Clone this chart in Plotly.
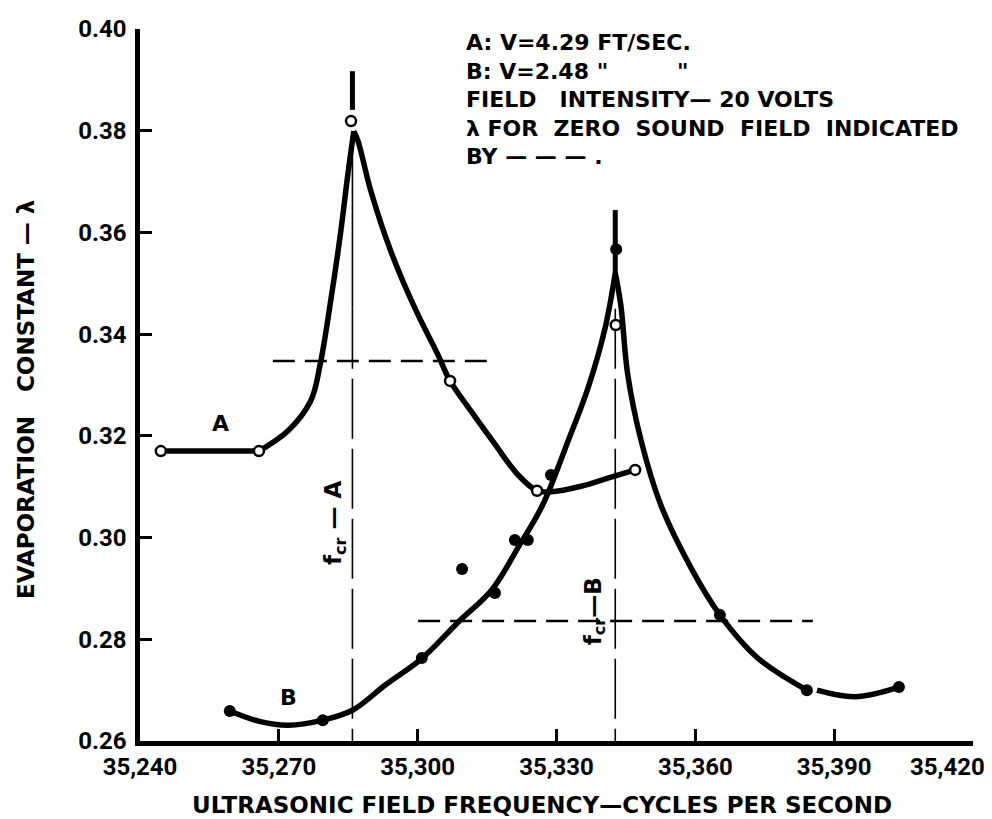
import plotly.graph_objects as go

# axis ticks
x_ticks = [35240, 35270, 35300, 35330, 35360, 35390, 35420]
x_tick_labels = ["35,240", "35,270", "35,300", "35,330", "35,360", "35,390", "35,420"]
y_ticks = [0.26, 0.28, 0.30, 0.32, 0.34, 0.36, 0.38, 0.40]
y_tick_labels = ["0.26", "0.28", "0.30", "0.32", "0.34", "0.36", "0.38", "0.40"]

# curve A (V=4.29 ft/sec) - measured points, open circles
a_pts_x = [35244.5, 35265.7, 35285.6, 35307.0, 35325.8, 35347.0]
a_pts_y = [0.317, 0.317, 0.3819, 0.3308, 0.3092, 0.3133]
# drawn curve A (three pieces, cusp at the peak)
a_flat_x = [35244.5, 35265.7]
a_flat_y = [0.317, 0.317]
a_rise_x = [35265.7, 35272.0, 35276.9, 35278.9, 35281.3, 35283.4, 35284.9, 35286.2]
a_rise_y = [0.317, 0.321, 0.3269, 0.3339, 0.3471, 0.3603, 0.3713, 0.3799]
a_fall_x = [35286.2, 35287.1, 35289.9, 35294.2, 35299.4, 35304.4, 35307.0, 35311.5,
            35316.5, 35321.7, 35325.8, 35328.8, 35335.3, 35341.1, 35347.0]
a_fall_y = [0.3799, 0.378, 0.3681, 0.3563, 0.3451, 0.3359, 0.3308, 0.3249,
            0.3186, 0.3123, 0.3092, 0.309, 0.3101, 0.3117, 0.3133]

# curve B (V=2.48 ft/sec) - measured points, filled dots
b_pts_x = [35259.4, 35279.5, 35300.9, 35309.6, 35316.7, 35321.0, 35323.8, 35328.8,
           35342.9, 35365.3, 35384.1, 35404.0]
b_pts_y = [0.2659, 0.2641, 0.2763, 0.2938, 0.2891, 0.2995, 0.2995, 0.3123,
           0.3567, 0.2848, 0.2700, 0.2706]
b_odd_x = [35342.8]
b_odd_y = [0.3418]
b_left_x = [35259.4, 35266.0, 35272.0, 35279.5, 35286.0, 35293.0, 35301.0, 35309.0,
            35316.0, 35322.0, 35327.0, 35332.5, 35336.8, 35340.5, 35342.7]
b_left_y = [0.2659, 0.2638, 0.2631, 0.2641, 0.2661, 0.2710, 0.2763, 0.2836,
            0.2897, 0.2985, 0.3064, 0.3190, 0.3294, 0.3412, 0.3520]
b_right_x = [35342.7, 35343.9, 35345.4, 35348.3, 35352.5, 35359.1, 35365.3, 35373.5, 35384.1]
b_right_y = [0.3520, 0.3457, 0.3320, 0.3190, 0.3065, 0.2940, 0.2848, 0.2763, 0.2700]
b_tail_x = [35386.3, 35394.5, 35404.0]
b_tail_y = [0.2700, 0.2687, 0.2706]

# critical frequencies and lambda for zero sound field
fcr_a = 35285.9
fcr_b = 35342.7
zero_a_x = [35268.7, 35315.6]
zero_a_y = 0.3347
zero_b_x = [35300.1, 35385.4]
zero_b_y = 0.2836

NB = "\u00a0"
notes = ("A: V=4.29 FT/SEC.<br>"
         "B: V=2.48 \"" + NB * 9 + "\"<br>"
         "FIELD" + NB * 3 + "INTENSITY\u2014 20 VOLTS<br>"
         "\u03bb FOR" + NB * 2 + "ZERO" + NB * 2 + "SOUND" + NB * 2 + "FIELD" + NB * 2 + "INDICATED<br>"
         "BY \u2014 \u2014 \u2014 .")

TFONT = "Roboto, DejaVu Sans, sans-serif"
LFONT = "DejaVu Sans, Roboto, sans-serif"
K = "black"

fig = go.Figure()

def line(x, y, width=5.5, dash="solid", shape="spline"):
    fig.add_trace(go.Scatter(x=x, y=y, mode="lines", line_shape=shape,
                             line=dict(color=K, width=width, dash=dash),
                             hoverinfo="skip", showlegend=False))

# reference lines
line(zero_a_x, [zero_a_y, zero_a_y], 2.5, "22px,10px", "linear")
line(zero_b_x, [zero_b_y, zero_b_y], 2.5, "22px,10px", "linear")
line([fcr_a, fcr_a], [0.3799, 0.345], 1.6, "solid", "linear")
line([fcr_a, fcr_a], [0.345, 0.26], 1.6, "60px,10px", "linear")
line([fcr_b, fcr_b], [0.345, 0.26], 1.6, "60px,10px", "linear")
line([fcr_a, fcr_a], [0.3841, 0.3917], 5, "solid", "linear")
line([fcr_b, fcr_b], [0.352, 0.3644], 5, "solid", "linear")

# curve A
line(a_flat_x, a_flat_y, shape="linear")
line(a_rise_x, a_rise_y)
line(a_fall_x, a_fall_y)
# curve B
line(b_left_x, b_left_y)
line(b_right_x, b_right_y)
line(b_tail_x, b_tail_y)

fig.add_trace(go.Scatter(x=a_pts_x + b_odd_x, y=a_pts_y + b_odd_y, mode="markers",
                         marker=dict(symbol="circle", size=10, color="white",
                                     line=dict(color=K, width=2.5)),
                         hoverinfo="skip", showlegend=False))
fig.add_trace(go.Scatter(x=b_pts_x, y=b_pts_y, mode="markers",
                         marker=dict(symbol="circle", size=12, color=K),
                         hoverinfo="skip", showlegend=False))

lab = dict(family=LFONT, size=22, color=K, weight="bold")
fig.add_annotation(x=35257.5, y=0.3225, text="A", showarrow=False, font=lab)
fig.add_annotation(x=35272.0, y=0.2685, text="B", showarrow=False, font=lab)
fig.add_annotation(x=35282.2, y=0.3029, text="f<sub>cr</sub> \u2014 A", showarrow=False,
                   textangle=-90, font=dict(family=LFONT, size=23, color=K, weight="bold"))
fig.add_annotation(x=35338.3, y=0.2855, text="f<sub>cr</sub>\u2014B", showarrow=False,
                   textangle=-90, font=dict(family=LFONT, size=23, color=K, weight="bold"))
fig.add_annotation(xref="paper", yref="paper", x=(456 - 132) / 833, y=1 - (20 - 21) / 712,
                   xanchor="left", yanchor="top", align="left", text=notes, showarrow=False,
                   font=dict(family=LFONT, size=22, color=K, weight="bold"))

# axis titles
fig.add_annotation(xref="paper", yref="paper", x=(534 - 132) / 833, y=(733 - 797) / 712,
                   xanchor="center", yanchor="middle", showarrow=False,
                   text="ULTRASONIC FIELD FREQUENCY\u2014CYCLES PER SECOND",
                   font=dict(family=LFONT, size=23, color=K, weight="bold"))
fig.add_annotation(xref="paper", yref="paper", x=(18 - 132) / 833, y=(733 - 392) / 712,
                   xanchor="center", yanchor="middle", showarrow=False, textangle=-90,
                   text="EVAPORATION" + NB * 3 + "CONSTANT" + NB + "\u2014" + NB + "\u03bb",
                   font=dict(family=LFONT, size=23, color=K, weight="bold"))

tick_font = dict(family=TFONT, size=24, color=K, weight="bold")
# last x tick label is lettered a little left of its tick (it would run off the page)
fig.add_annotation(x=x_ticks[-1], xref="x", yref="paper", y=(733 - 759) / 712,
                   xanchor="right", yanchor="middle", xshift=14, showarrow=False,
                   text=x_tick_labels[-1], font=tick_font)
fig.update_xaxes(range=[35240, 35420], tickvals=x_ticks,
                 ticktext=x_tick_labels[:-1] + [""],
                 ticks="inside", ticklen=12, tickwidth=2.5, tickcolor=K,
                 showline=True, linewidth=4.5, linecolor=K, showgrid=False, zeroline=False,
                 tickfont=tick_font, automargin=False)
fig.update_yaxes(range=[0.26, 0.40], tickvals=y_ticks, ticktext=y_tick_labels,
                 ticks="inside", ticklen=12, tickwidth=2.5, tickcolor=K,
                 showline=True, linewidth=4.5, linecolor=K, showgrid=False, zeroline=False,
                 tickfont=tick_font, ticklabelstandoff=4, automargin=False)

fig.update_layout(width=992, height=819, autosize=False,
                  margin=dict(l=132, r=27, t=21, b=86),
                  paper_bgcolor="white", plot_bgcolor="white")

fig.write_html("out.html")
